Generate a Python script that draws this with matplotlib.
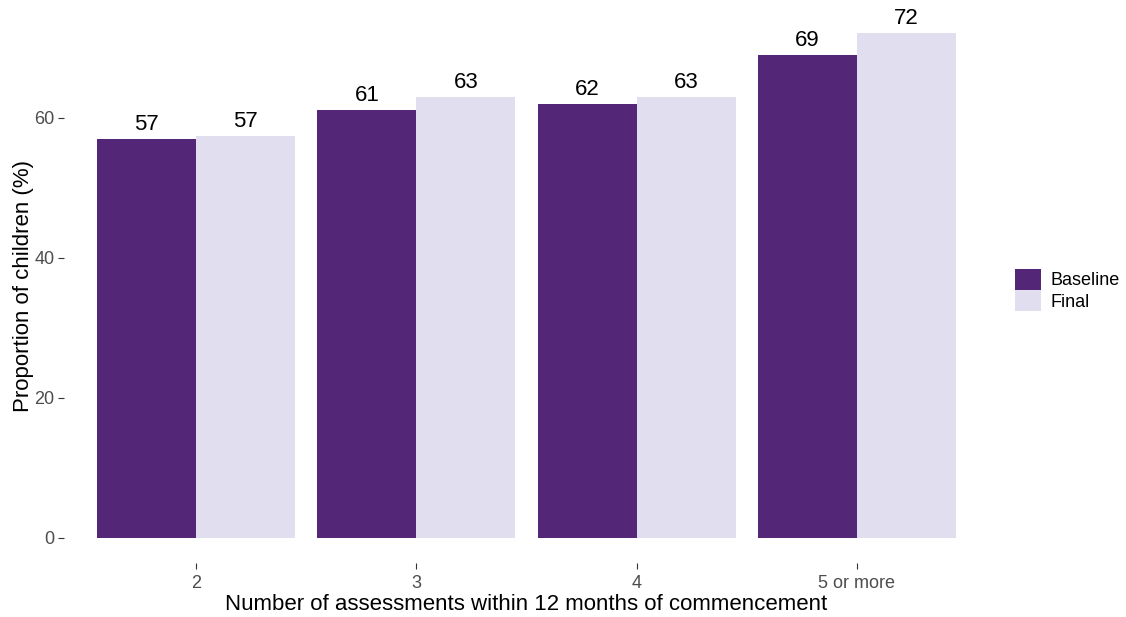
import matplotlib
matplotlib.use("Agg")
import matplotlib.pyplot as plt
import numpy as np
from matplotlib.patches import Patch

categories = ["2", "3", "4", "5 or more"]
baseline = [57.0, 61.1, 62.0, 69.0]
final = [57.4, 63.0, 63.0, 72.1]
baseline_labels = ["57", "61", "62", "69"]
final_labels = ["57", "63", "63", "72"]
series_names = ["Baseline", "Final"]

col_base = "#532677"
col_final = "#E1DEF0"

plt.rcParams['font.family'] = ['Liberation Sans', 'DejaVu Sans']

fig = plt.figure(figsize=(11.26, 6.17), dpi=100)
ax = fig.add_axes([64/1126, 1-563/617, (989-64)/1126, (563-8)/617])

x = np.arange(1, len(categories) + 1)
w = 0.45
ax.bar(x - w/2, baseline, width=w, color=col_base, linewidth=0)
ax.bar(x + w/2, final, width=w, color=col_final, linewidth=0)
for xi, v, l in zip(x - w/2, baseline, baseline_labels):
    ax.text(xi, v + 0.6, l, ha='center', va='bottom', fontsize=16, color='black')
for xi, v, l in zip(x + w/2, final, final_labels):
    ax.text(xi, v + 0.6, l, ha='center', va='bottom', fontsize=16, color='black')

ax.set_xlim(0.4, 4.6)
ax.set_ylim(-3.6, 75.7)
ax.set_xticks(x)
ax.set_xticklabels(categories)
ax.set_yticks([0, 20, 40, 60])
for s in ax.spines.values():
    s.set_visible(False)
ax.tick_params(axis='both', colors='#333333', labelcolor='#4D4D4D', labelsize=13,
               length=4, width=0.8, pad=3)
ax.tick_params(axis='x', pad=5)
ax.set_xlabel("Number of assessments within 12 months of commencement", fontsize=16, labelpad=1)
ax.set_ylabel("Proportion of children (%)", fontsize=16, labelpad=0)

handles = [Patch(facecolor=col_base, edgecolor='none'), Patch(facecolor=col_final, edgecolor='none')]
fig.legend(handles, series_names, loc='center left', bbox_to_anchor=(1015/1126, 1-290/617),
           frameon=False, fontsize=13, handlelength=1.45, handleheight=1.45,
           handletextpad=0.5, labelspacing=0.0, borderaxespad=0, borderpad=0)

fig.savefig("out.png", dpi=100)
